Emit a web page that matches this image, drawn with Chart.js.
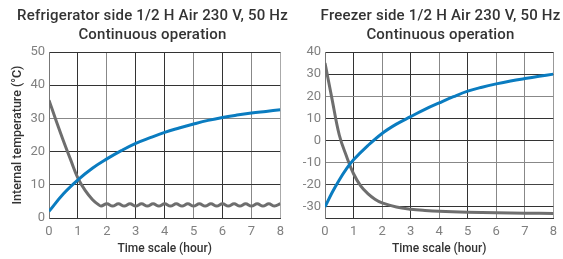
<!DOCTYPE html>
<html><head><meta charset="utf-8">
<script src="https://cdn.jsdelivr.net/npm/chart.js@4/dist/chart.umd.min.js"></script>
<style>
html,body{margin:0;padding:0;background:#fff;width:563px;height:259px;overflow:hidden}
canvas{position:absolute;top:0}
#c1{left:0}
#c2{left:290px}
</style></head><body>
<canvas id="c1" width="290" height="259"></canvas>
<canvas id="c2" width="273" height="259"></canvas>
<script>
// ---- Data ----
const fridgeTitle = ['Refrigerator side 1/2 H Air 230 V, 50 Hz', 'Continuous operation'];
const freezerTitle = ['Freezer side 1/2 H Air 230 V, 50 Hz', 'Continuous operation'];
const xAxisTitle = 'Time scale (hour)';
const yAxisTitle = 'Internal temperature (°C)';

// Refrigerator side: blue (rising) curve
const fridgeBlueHours = [0, 0.5, 1, 1.5, 2, 2.5, 3, 3.5, 4, 4.5, 5, 5.5, 6, 6.5, 7, 7.5, 8];
const fridgeBlueTemps = [2, 7.3, 11.5, 15, 17.8, 20.3, 22.5, 24.2, 25.8, 27.1, 28.3, 29.4, 30.3, 31, 31.6, 32.1, 32.6];
// Refrigerator side: gray (cooling) curve, wavy once it reaches its set temperature
const fridgeGrayHours = [0, 0.25, 0.5, 0.75, 1, 1.25, 1.5, 1.7,
  1.8, 2.0, 2.2, 2.4, 2.6, 2.8, 3.0, 3.2, 3.4, 3.6, 3.8, 4.0, 4.2, 4.4, 4.6, 4.8,
  5.0, 5.2, 5.4, 5.6, 5.8, 6.0, 6.2, 6.4, 6.6, 6.8, 7.0, 7.2, 7.4, 7.6, 7.8, 8.0];
const fridgeGrayTemps = [35.5, 29.2, 23.2, 17.5, 12, 8.3, 5.6, 4.1,
  3.6, 4.3, 3.6, 4.3, 3.6, 4.3, 3.6, 4.3, 3.6, 4.3, 3.6, 4.3, 3.6, 4.3, 3.6, 4.3,
  3.6, 4.3, 3.6, 4.3, 3.6, 4.3, 3.6, 4.3, 3.6, 4.3, 3.6, 4.3, 3.6, 4.3, 3.6, 4.3];

// Freezer side
const freezerBlueHours = [0, 0.25, 0.5, 0.75, 1, 1.5, 2, 2.5, 3, 3.5, 4, 4.5, 5, 5.5, 6, 6.5, 7, 7.5, 8];
const freezerBlueTemps = [-30, -23.5, -17.8, -12.8, -8.7, -2.3, 3.2, 7.4, 10.8, 14.1, 17, 19.8, 22.3, 24.1, 25.6, 26.9, 28, 29, 30];
const freezerGrayHours = [0, 0.25, 0.5, 0.75, 1, 1.25, 1.5, 1.75, 2, 2.5, 3, 3.5, 4, 5, 6, 7, 8];
const freezerGrayTemps = [35, 18.5, 2.5, -7, -15, -20.5, -24, -26.5, -28.2, -30, -31, -31.6, -32, -32.4, -32.6, -32.8, -33];

const hourTicks = [0, 1, 2, 3, 4, 5, 6, 7, 8];

// ---- Styles ----
const BLUE = '#0a7cc0';
const GRAY = '#6e6e6e';
const FONT = 'Roboto';

const toPoints = (xs, ys) => xs.map((x, i) => ({x, y: ys[i]}));

const topTitle = {
  id: 'topTitle',
  afterDraw(chart, args, o) {
    const ctx = chart.ctx;
    ctx.save();
    ctx.font = '500 15px ' + FONT;
    ctx.letterSpacing = '0.2px';
    ctx.fillStyle = '#333';
    ctx.textAlign = 'center';
    ctx.textBaseline = 'alphabetic';
    o.lines.forEach((t, i) => ctx.fillText(t, o.cx, o.base + i * o.lh));
    ctx.restore();
  }
};

function makeChart(id, opts) {
  return new Chart(document.getElementById(id), {
    type: 'line',
    data: {
      datasets: [
        {data: toPoints(opts.blueX, opts.blueY), borderColor: BLUE, borderWidth: 3, pointRadius: 0, tension: 0.4, fill: false},
        {data: toPoints(opts.grayX, opts.grayY), borderColor: GRAY, borderWidth: 3, pointRadius: 0, tension: 0.4, fill: false}
      ]
    },
    plugins: [topTitle],
    options: {
      responsive: false,
      animation: false,
      layout: {padding: {top: 52, left: 0, right: opts.padRight, bottom: 0}},
      plugins: {
        legend: {display: false},
        tooltip: {enabled: false},
        topTitle: {lines: opts.title, cx: opts.titleX, base: 19.5, lh: 19.5}
      },
      scales: {
        x: {
          type: 'linear', min: 0, max: 8,
          afterBuildTicks: s => { s.ticks = hourTicks.map(v => ({value: v})); },
          ticks: {color: '#808080', font: {family: FONT, size: 13}, padding: 6},
          grid: {color: c => opts.xGrid[c.index] || '#333', drawTicks: false, lineWidth: 1},
          border: {color: '#333', width: 1},
          title: {display: true, text: xAxisTitle, color: '#333', font: {family: FONT, size: 12, weight: '500'}, padding: {top: 0, bottom: 3}},
          afterFit: s => { s.height = 41; }
        },
        y: {
          min: opts.yMin, max: opts.yMax,
          afterBuildTicks: s => { s.ticks = opts.yTicks.map(v => ({value: v})); },
          ticks: {color: '#808080', font: {family: FONT, size: 13}, padding: 4},
          grid: {color: c => opts.yGrid[c.index] || '#333', drawTicks: false, lineWidth: 1},
          border: {color: '#777', width: 1},
          title: {display: opts.yTitle, text: yAxisTitle, color: '#333', font: {family: FONT, size: 12.5, weight: '500'}, padding: {top: 10, bottom: 0}},
          afterFit: s => { s.width = opts.yWidth; }
        }
      }
    }
  });
}

makeChart('c1', {
  title: fridgeTitle, titleX: 152.5, padRight: 5,
  blueX: fridgeBlueHours, blueY: fridgeBlueTemps, grayX: fridgeGrayHours, grayY: fridgeGrayTemps,
  yMin: 0, yMax: 50, yTicks: [0, 10, 20, 30, 40, 50], yTitle: true, yWidth: 49,
  xGrid: ['#777', '#333', '#888', '#333', '#333', '#888', '#333', '#888', '#aaa'],
  yGrid: ['#333', '#333', '#333', '#888', '#333', '#333']
});

makeChart('c2', {
  title: freezerTitle, titleX: 150.5, padRight: 3,
  blueX: freezerBlueHours, blueY: freezerBlueTemps, grayX: freezerGrayHours, grayY: freezerGrayTemps,
  yMin: -35, yMax: 40, yTicks: [-30, -20, -10, 0, 10, 20, 30, 40], yTitle: false, yWidth: 35,
  xGrid: ['#777', '#333', '#888', '#333', '#888', '#333', '#888', '#888', '#999'],
  yGrid: ['#333', '#444', '#888', '#333', '#333', '#888', '#333', '#333']
});
</script>
</body></html>
